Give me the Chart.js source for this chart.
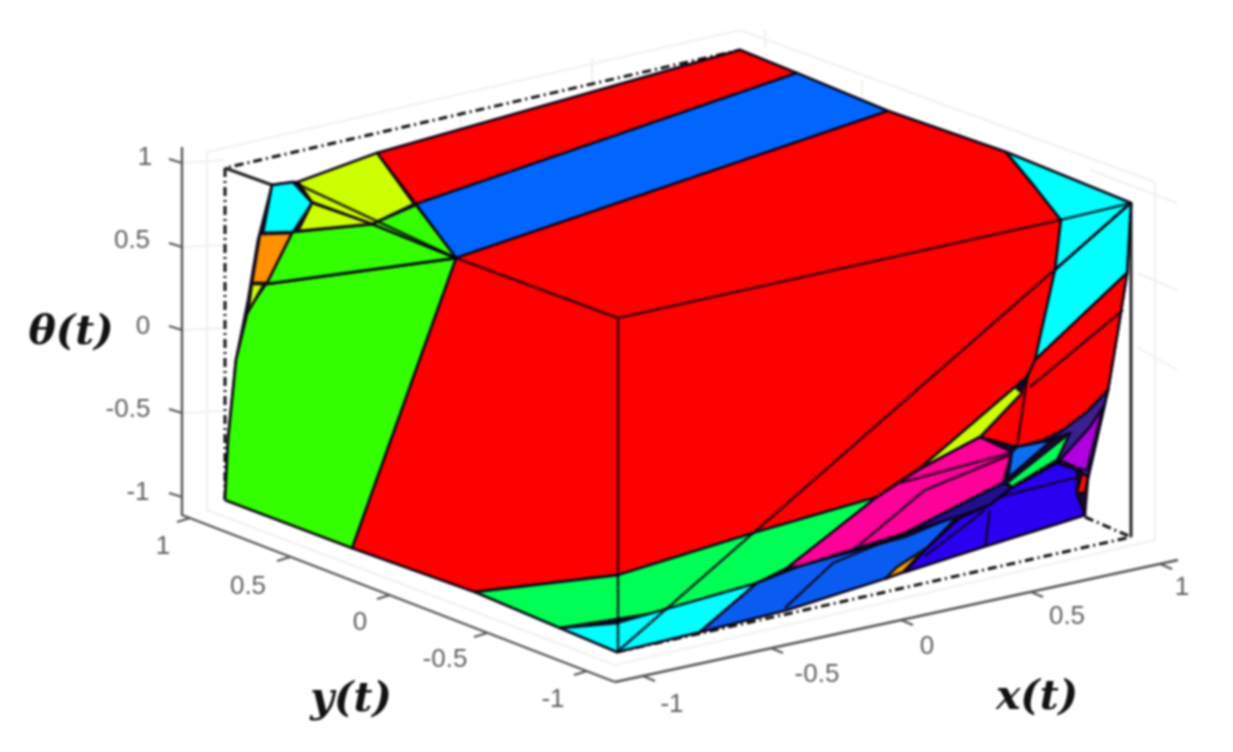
<!DOCTYPE html>
<html>
<head>
<meta charset="utf-8">
<title>Polytope</title>
<script src="https://cdn.jsdelivr.net/npm/chart.js@4"></script>
<style>
    html, body { margin: 0; background: #fff; }
    canvas { display: block; filter: blur(0.8px); }
</style>
</head>
<body>
<canvas id="chart" width="1233" height="752"></canvas>
<script>
// Faces, as [x, y] on the projected view
const outline = [[225,500],[228,440],[236,360],[248,300],[258,240],[272,185],[298,182],[377,153],[740,50],[888,111],[1006,152],[1131,203],[1127,273],[1118,330],[1108,390],[1100,425],[1088,478],[1085,515],[1060,523],[983,547],[905,572],[787,610],[700,632],[617,652],[475,592],[352,548]];
const redTop = [[377,153],[740,50],[797,73],[416,204]];
const blueBand = [[416,204],[797,73],[888,111],[456,258]];
const redBig = [[456,258],[888,111],[1006,152],[1035,187],[1061,220],[1055,270],[1035,360],[1028,375],[1015,387],[920,468],[877,497],[753,533],[618,575],[475,592],[352,548]];
const cyanRight = [[1006,152],[1131,203],[1127,273],[1035,360],[1055,270],[1061,220],[1035,187]];
const redRight = [[1028,375],[1035,360],[1127,273],[1118,330],[1108,390],[1087,412],[1063,430],[1043,440],[1017,447],[980,437],[1020,395]];
const yellowSliver = [[918,470],[1015,387],[1022,393],[980,437]];
const greenLeft = [[225,500],[352,548],[456,258],[266,284],[248,310],[236,360],[228,440]];
const greenMid = [[266,284],[292,232],[372,224],[456,258]];
const greenTop = [[372,224],[416,205],[456,258]];
const cyanCorner = [[272,185],[293,182],[312,203],[293,232],[263,233]];
const yellowBig = [[298,182],[377,153],[414,204],[372,224],[312,202]];
const yellowSmall = [[312,203],[372,224],[298,231]];
const orangeFace = [[260,234],[292,233],[267,283],[252,283]];
const yellowTiny = [[252,284],[264,284],[248,312]];
const springBand = [[475,592],[618,575],[753,533],[877,497],[787,568],[757,583],[657,613],[560,628]];
const cyanBottom = [[560,628],[617,623],[757,583],[700,632],[617,652]];
const blueBottom = [[700,632],[757,583],[800,566],[905,537],[960,514],[925,550],[887,578],[787,610]];
const pinkFace = [[787,568],[877,497],[918,470],[980,437],[1012,452],[1003,483],[975,497],[905,533],[800,566]];
const navyStrip = [[905,533],[975,497],[1003,483],[1012,487],[990,505],[960,516]];
const indigoFace = [[905,572],[925,550],[960,518],[990,505],[1012,488],[1057,463],[1077,470],[1077,495],[1085,515],[1060,523],[983,547]];
const goldSliver = [[885,579],[897,567],[925,549],[903,572]];
const blueSmall = [[1012,452],[1017,447],[1052,440],[1008,478]];
const greenSliver = [[1007,483],[1070,433],[1057,460],[1012,487]];
const darkEdge = [[1043,442],[1063,430],[1087,412],[1108,390],[1100,425],[1088,478],[1077,468],[1057,460],[1070,433]];
const purpleFace = [[1060,460],[1090,427],[1103,407],[1097,430],[1087,470],[1077,468]];
const redSmall = [[1082,473],[1088,477],[1085,493],[1077,493]];

// Extra edges running across the faces
const edgeLines = [
    [[617,652],[1131,203]],
    [[618,318],[1060,220],[1131,203]],
    [[456,258],[618,318]],
    [[618,318],[618,652]],
    [[293,182],[456,258]],
    [[1055,270],[1128,205]],
    [[1030,387],[1123,310]],
    [[980,437],[1017,447]],
    [[1017,447],[1028,373]],
    [[853,550],[925,490],[1010,455]],
    [[900,483],[1010,453]],
    [[785,608],[833,563],[905,533]],
    [[925,556],[985,510]],
    [[985,547],[990,510]],
    [[1000,497],[1077,477]]
];

// Box behind the solid
const boxDashed = [[[225,500],[225,168],[740,50]], [[617,652],[1131,537]], [[1085,517],[1131,537]]];
const boxSolid = [[[225,168],[272,185]], [[1131,203],[1131,537]]];
const gridFaint = [
    [[207,510],[207,152],[740,30],[1155,182],[1155,540],[615,665],[207,510]],
    [[461,110],[461,140]], [[592,58],[592,90]], [[765,30],[765,48]],
    [[862,80],[862,108]], [[960,127],[960,160]], [[1060,187],[1060,214]],
    [[1090,170],[1177,203]], [[1137,273],[1177,290]], [[1137,347],[1177,370]],
    [[182,163],[225,160]], [[182,247],[225,245]], [[182,330],[225,328]], [[182,413],[225,411]]
];

// Axes
const axisTheta = [[182,147],[182,516]];
const axisY = [[182,515],[615,682]];
const axisX = [[615,682],[1178,560]];
const tickLabels = ['-1', '-0.5', '0', '0.5', '1'];
const thetaTicks = [[182,497],[182,413],[182,330],[182,247],[182,163]];
const yTicks = [[587,671],[487,633],[390,595],[290,557],[190,518]];
const xTicks = [[643,676],[771,648],[901,620],[1031,592],[1160,564]];
const thetaLabelAt = [[138,493],[128,410],[143,327],[132,241],[145,158]];
const yLabelAt = [[553,700],[445,660],[360,623],[248,587],[163,547]];
const xLabelAt = [[672,705],[817,675],[927,647],[1067,617],[1182,588]];
const axisTitles = ['\u03B8(t)', 'y(t)', 'x(t)'];
const axisTitleAt = [[71,333],[351,700],[1037,698]];

function toPoints(list) {
    return list.map(function(p) { return { x: p[0], y: p[1] }; });
}

var datasets = [];

function addLine(points, color, width, dash) {
    datasets.push({
        data: toPoints(points),
        showLine: true,
        fill: false,
        borderColor: color,
        borderWidth: width,
        borderDash: dash || [],
        pointRadius: 0
    });
}

function addFace(points, color) {
    datasets.push({
        data: toPoints(points.concat([points[0]])),
        showLine: true,
        fill: 'shape',
        backgroundColor: color,
        borderColor: 'rgba(10,0,20,0.85)',
        borderWidth: 2.8,
        borderJoinStyle: 'round',
        pointRadius: 0
    });
}

gridFaint.forEach(function(g) { addLine(g, '#f0f0f0', 2); });
boxDashed.forEach(function(b) { addLine(b, '#111', 3, [9, 4, 2, 4]); });
boxSolid.forEach(function(b) { addLine(b, '#222', 3); });

addLine(axisTheta, '#555', 2.4);
addLine(axisY, '#555', 2.4);
addLine(axisX, '#555', 2.4);
thetaTicks.forEach(function(t) { addLine([t, [t[0] - 13, t[1] - 4]], '#555', 2); });
yTicks.forEach(function(t) { addLine([t, [t[0] - 13, t[1] + 4]], '#555', 2); });
xTicks.forEach(function(t) { addLine([t, [t[0] + 12, t[1] + 5]], '#555', 2); });

addFace(outline, '#1a0a30');
addFace(redTop, '#ff0000');
addFace(blueBand, '#0066ff');
addFace(redBig, '#ff0000');
addFace(cyanRight, '#00ffff');
addFace(redRight, '#ff0000');
addFace(yellowSliver, '#ccff00');
addFace(greenLeft, '#33ff00');
addFace(greenMid, '#33ff00');
addFace(greenTop, '#33ff00');
addFace(cyanCorner, '#00ffff');
addFace(yellowBig, '#ccff00');
addFace(yellowSmall, '#ccff00');
addFace(orangeFace, '#ff9000');
addFace(yellowTiny, '#ccff00');
addFace(springBand, '#00ff55');
addFace(cyanBottom, '#00ffff');
addFace(blueBottom, '#0a5cf0');
addFace(pinkFace, '#ff0099');
addFace(navyStrip, '#20108c');
addFace(indigoFace, '#2a00f0');
addFace(goldSliver, '#f0a800');
addFace(blueSmall, '#0a70f0');
addFace(darkEdge, '#3a2090');
addFace(greenSliver, '#00ff55');
addFace(purpleFace, '#b000e0');
addFace(redSmall, '#ff1000');
edgeLines.forEach(function(e) { addLine(e, 'rgba(10,0,20,0.8)', 2.6); });

// first dataset is painted at the back
datasets.forEach(function(d, i) { d.order = datasets.length - i; });

const textPlugin = {
    id: 'textPlugin',
    afterDraw: function(chart) {
        const ctx = chart.ctx;
        const sx = chart.scales.x;
        const sy = chart.scales.y;
        function put(text, at) {
            ctx.fillText(text, sx.getPixelForValue(at[0]), sy.getPixelForValue(at[1]));
        }
        ctx.save();
        ctx.textAlign = 'center';
        ctx.textBaseline = 'middle';
        ctx.fillStyle = '#5f5f5f';
        ctx.font = '26px "Liberation Sans"';
        tickLabels.forEach(function(t, i) {
            put(t, thetaLabelAt[i]);
            put(t, yLabelAt[i]);
            put(t, xLabelAt[i]);
        });
        ctx.fillStyle = '#111';
        ctx.font = 'italic bold 41px "DejaVu Serif"';
        axisTitles.forEach(function(t, i) { put(t, axisTitleAt[i]); });
        ctx.restore();
    }
};

new Chart(document.getElementById('chart').getContext('2d'), {
    type: 'scatter',
    data: { datasets: datasets },
    plugins: [textPlugin],
    options: {
        responsive: false,
        animation: false,
        layout: { padding: 0 },
        plugins: { legend: { display: false }, tooltip: { enabled: false } },
        scales: {
            x: { type: 'linear', min: 0, max: 1233, display: false },
            y: { type: 'linear', min: 0, max: 752, reverse: true, display: false }
        }
    }
});
</script>
</body>
</html>
